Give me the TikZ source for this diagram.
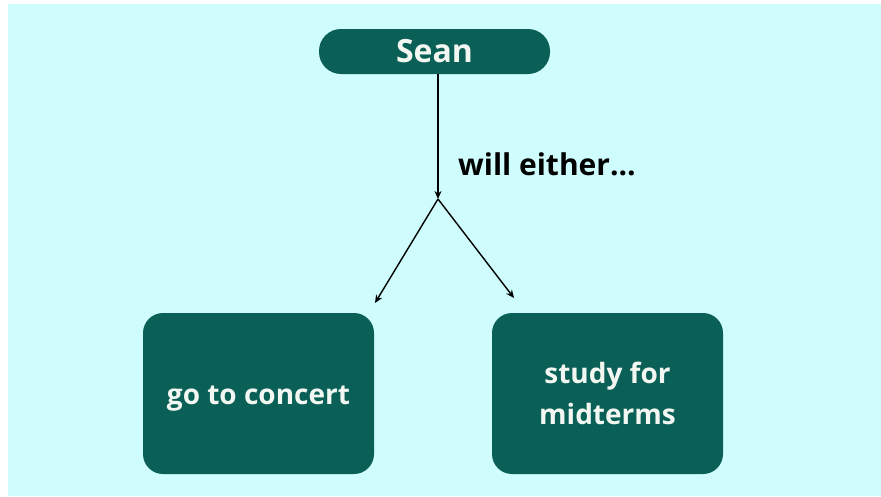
\documentclass[tikz,border=0pt]{standalone}
\usepackage{fontspec}
\setmainfont{Open Sans}
\usetikzlibrary{arrows.meta}
\definecolor{bgcyan}{HTML}{CFFCFC}
\definecolor{teal}{HTML}{0A5F57}
\definecolor{paleText}{HTML}{F2F7F2}
\tikzset{
  x=1pt, y=-1pt,
  namebox/.style={fill=teal, rounded corners=22pt, minimum width=231pt, minimum height=45pt,
    inner sep=0pt, text=paleText, font=\bfseries\fontsize{32}{38}\selectfont},
  choicebox/.style={fill=teal, rounded corners=20pt, minimum width=231pt, minimum height=161pt,
    inner sep=0pt, text=paleText, align=center, font=\bfseries\fontsize{28}{41}\selectfont},
  link/.style={draw=black, line width=1.4pt, -{Stealth[length=8pt,width=7pt]}},
  caption/.style={inner sep=0pt, anchor=base west, font=\bfseries\fontsize{30}{34}\selectfont}
}
\begin{document}
\begin{tikzpicture}
  \useasboundingbox (0,0) rectangle (881,496);
  \fill[white] (0,0) rectangle (881,496);
  \fill[bgcyan] (8,4) rectangle (881,496);

  \node[namebox] (sean) at (434.5,51.5) {Sean};
  \node[choicebox] (concert) at (258.5,393.5) {\raisebox{-5pt}[\height][\depth]{go to concert}};
  \node[choicebox] (study) at (607.5,393.5) {study for\\midterms};

  \coordinate (split) at (438,199);
  \coordinate (tipL) at (375,303);
  \coordinate (tipR) at (514,298);

  \draw[link] (sean.south -| split) -- (split);
  \draw[link] (split) -- (tipL);
  \draw[link] (split) -- (tipR);

  \node[caption] (either) at (458,175) {will either...};
\end{tikzpicture}
\end{document}
